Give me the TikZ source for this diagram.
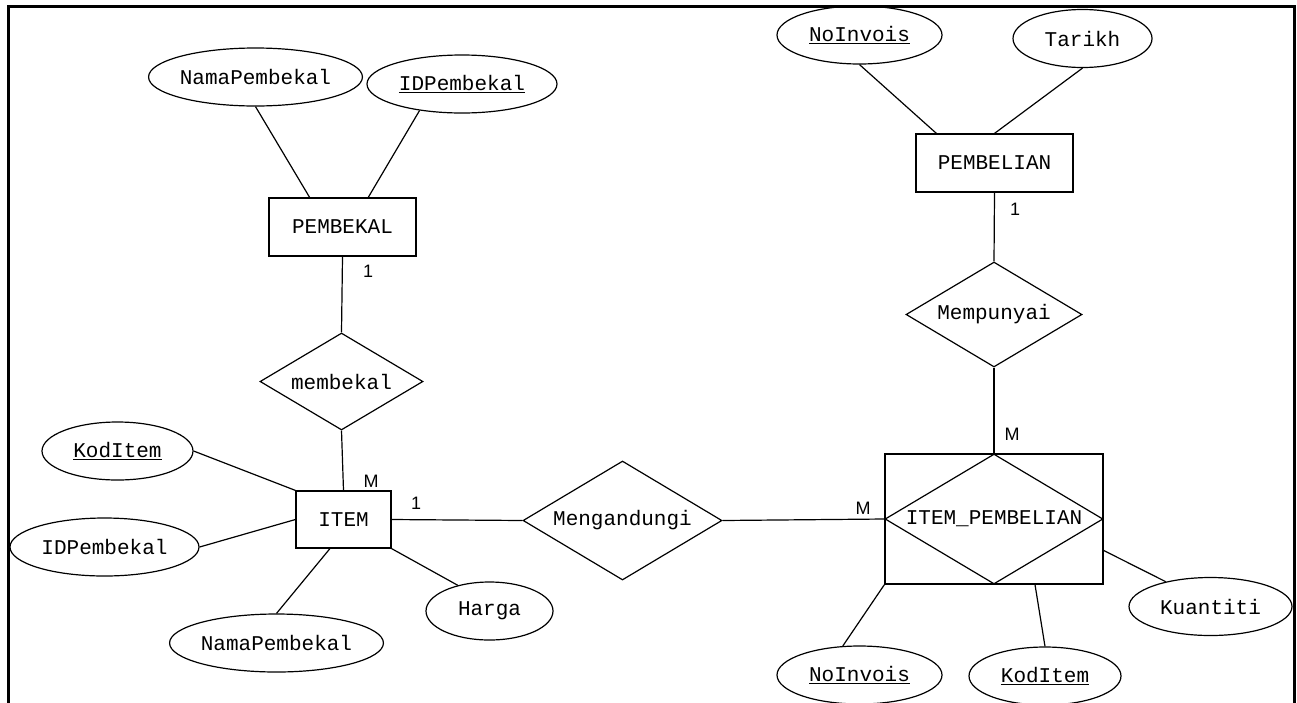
\documentclass[tikz,border=0pt]{standalone}
\usepackage{fontspec}
\setmonofont{Liberation Mono}
\setsansfont{Liberation Sans}
\usetikzlibrary{shapes.geometric}

\tikzset{
  entity/.style={draw,rectangle,inner sep=0pt,minimum height=58pt,font=\ttfamily\fontsize{21}{25}\selectfont},
  attr/.style={draw,ellipse,inner sep=0pt,minimum height=58pt,font=\ttfamily\fontsize{21}{25}\selectfont},
  rel/.style={draw,diamond,inner sep=0pt,aspect=1.7,font=\ttfamily\fontsize{21}{25}\selectfont},
  card/.style={inner sep=0pt,font=\sffamily\fontsize{18}{21}\selectfont},
}

\begin{document}
\begin{tikzpicture}[x=1pt,y=-1pt,line width=1.2pt]
  \useasboundingbox (0,0) rectangle (1297,702);
  \draw[line width=3pt] (8,720) -- (8,6) -- (1294,6) -- (1294,720);

  % entities
  \node[entity,minimum width=147pt] (pembekal) at (342.5,227) {PEMBEKAL};
  \node[entity,minimum width=95pt,minimum height=57pt] (item) at (343.5,519.5) {ITEM};
  \node[entity,minimum width=157pt] (pembelian) at (994.5,163) {PEMBELIAN};
  \node[entity,minimum width=218pt,minimum height=130pt] (itembeli) at (994,519) {};

  % relationships
  \node[rel,minimum width=163pt,minimum height=97pt] (membekal) at (341.5,381.5) {membekal};
  \node[rel,minimum width=199pt,minimum height=119pt] (mengandungi) at (622.5,520.5) {Mengandungi};
  \node[rel,minimum width=176pt,minimum height=105pt] (mempunyai) at (994,314.5) {Mempunyai};
  \node[rel,minimum width=218pt,minimum height=130pt] (itembelirel) at (itembeli) {ITEM\_PEMBELIAN};

  % attributes
  \foreach \nm/\txt/\x/\y/\w in {
    namaA/NamaPembekal/255.5/77/213,
    idpA/{\underline{IDPembekal}}/462/84/190,
    kodA/{\underline{KodItem}}/117.5/451/151,
    idpB/IDPembekal/104.5/547/189,
    namaB/NamaPembekal/276.5/643/213,
    harga/Harga/489.5/611/127,
    noinvA/{\underline{NoInvois}}/859.5/35/165,
    tarikh/Tarikh/1082.5/38.5/139,
    kuantiti/Kuantiti/1210.5/606.5/163,
    noinvB/{\underline{NoInvois}}/859.5/675/165,
    kodB/{\underline{KodItem}}/1045/676/152}
  {
    \node[attr,minimum width=\w] (\nm) at (\x,\y) {\txt};
  }

  % connectors
  \foreach \a/\b in {
    namaA.south/pembekal.138, idpA.212/pembekal.49,
    pembekal.south/membekal.north, membekal.south/item.north,
    kodA.east/item.north west, idpB.east/item.west,
    namaB.north/item.245, harga.141/item.south east,
    item.east/mengandungi.west, mengandungi.east/itembeli.west,
    noinvA.south/pembelian.153, tarikh.south/pembelian.north,
    pembelian.south/mempunyai.north, mempunyai.south/itembeli.north,
    itembeli.344/kuantiti.151, itembeli.south west/noinvB.120,
    itembeli.302/kodB.north}
  {
    \draw (\a) -- (\b);
  }

  % cardinalities
  \foreach \nm/\txt/\x/\y in {
    cardA/1/368/271, cardB/M/371/481, cardC/1/416/503,
    cardD/M/863/508, cardE/1/1015/209, cardF/M/1012/434}
  {
    \node[card] (\nm) at (\x,\y) {\txt};
  }
\end{tikzpicture}
\end{document}
